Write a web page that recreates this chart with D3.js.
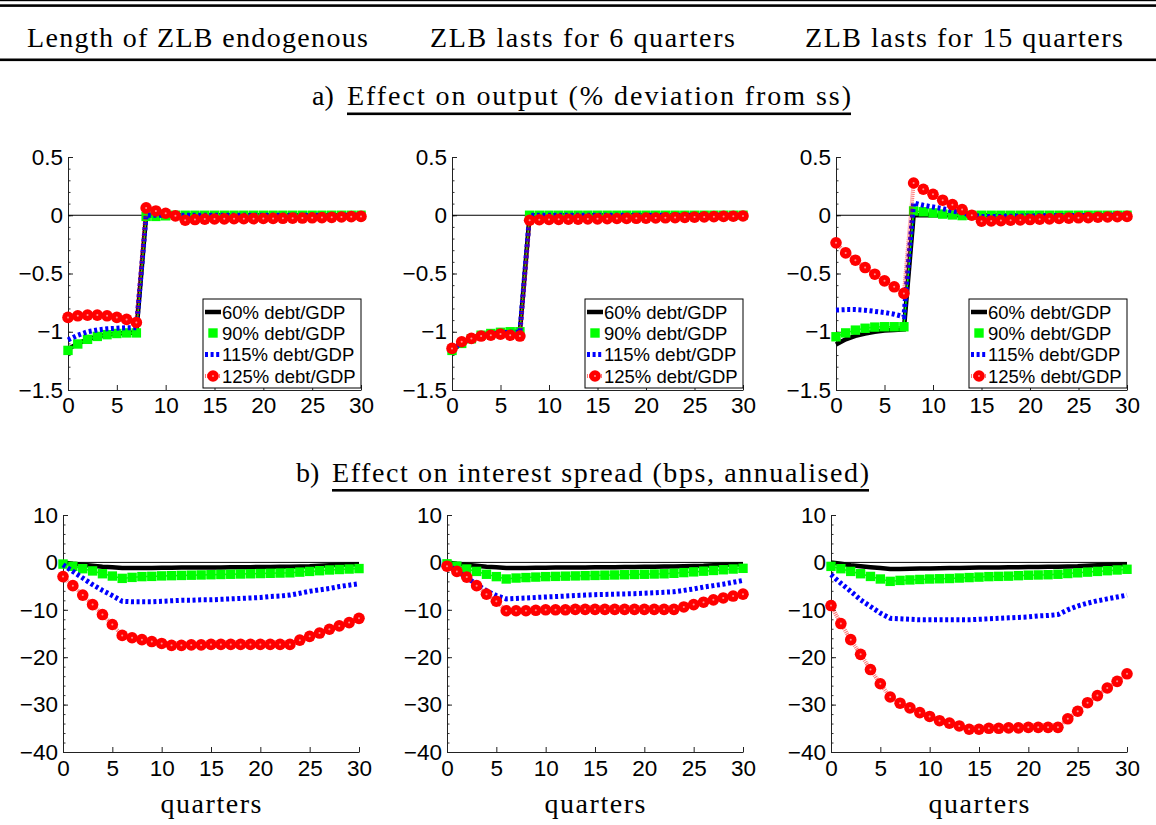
<!DOCTYPE html>
<html><head><meta charset="utf-8">
<script src="https://cdn.jsdelivr.net/npm/d3@7"></script>
<style>body{margin:0;background:#fff}</style>
</head><body><svg id="c" width="1156" height="825"></svg>
<script>
// ---------- data ----------
const quarters = [0,1,2,3,4,5,6,7,8,9,10,11,12,13,14,15,16,17,18,19,20,21,22,23,24,25,26,27,28,29,30];
const seriesNames = ["60% debt/GDP","90% debt/GDP","115% debt/GDP","125% debt/GDP"];
const columnHeaders = ["Length of ZLB endogenous","ZLB lasts for 6 quarters","ZLB lasts for 15 quarters"];
const titleA = ["a)","Effect on output (% deviation from ss)"];
const titleB = ["b)","Effect on interest spread (bps, annualised)"];
const xLabel = "quarters";
const outputTicks = [0.5,0,-0.5,-1,-1.5];
const spreadTicks = [10,0,-10,-20,-30,-40];
const quarterTicks = [0,5,10,15,20,25,30];

// a) output, ZLB endogenous
const outEndo60  = [-1.15,-1.10,-1.065,-1.04,-1.025,-1.015,-1.01,-1.005,0,0,0,0,0,0,0,0,0,0,0,0,0,0,0,0,0,0,0,0,0,0,0];
const outEndo90  = [-1.16,-1.105,-1.065,-1.04,-1.025,-1.015,-1.01,-1.01,-0.01,-0.01,-0.005,0,0,0,0,0,0,0,0,0,0,0,0,0,0,0,0,0,0,0,0];
const outEndo115 = [-1.07,-1.03,-1.0,-0.985,-0.975,-0.97,-0.965,-0.965,0,0,0,0,0,0,0,0,0,0,0,0,0,0,0,0,0,0,0,0,0,0,0];
const outEndo125 = [-0.877,-0.863,-0.857,-0.857,-0.863,-0.877,-0.894,-0.92,0.063,0.037,0.017,-0.005,-0.043,-0.037,-0.033,-0.032,-0.031,-0.03,-0.03,-0.029,-0.028,-0.027,-0.026,-0.025,-0.024,-0.022,-0.02,-0.018,-0.015,-0.012,-0.01];
// a) output, ZLB 6 quarters
const out6q60  = [-1.16,-1.10,-1.06,-1.03,-1.015,-1.005,-1.0,-1.0,0,0,0,0,0,0,0,0,0,0,0,0,0,0,0,0,0,0,0,0,0,0,0];
const out6q90  = [-1.16,-1.10,-1.06,-1.03,-1.015,-1.005,-1.0,-1.0,0,0,0,0,0,0,0,0,0,0,0,0,0,0,0,0,0,0,0,0,0,0,0];
const out6q115 = [-1.15,-1.095,-1.06,-1.035,-1.02,-1.01,-1.005,-1.005,0,0,0,0,0,0,0,0,0,0,0,0,0,0,0,0,0,0,0,0,0,0,0];
const out6q125 = [-1.143,-1.086,-1.057,-1.037,-1.03,-1.02,-1.03,-1.037,-0.043,-0.038,-0.036,-0.035,-0.034,-0.033,-0.032,-0.031,-0.03,-0.028,-0.027,-0.026,-0.025,-0.023,-0.022,-0.02,-0.018,-0.016,-0.014,-0.012,-0.01,-0.008,-0.006];
// a) output, ZLB 15 quarters
const out15q60  = [-1.11,-1.065,-1.035,-1.015,-1.0,-0.99,-0.985,-0.98,0,0,0,0,0,0,0,0,0,0,0,0,0,0,0,0,0,0,0,0,0,0,0];
const out15q90  = [-1.043,-1.01,-0.986,-0.97,-0.96,-0.957,-0.957,-0.957,0.037,0.03,0.02,0.01,0.003,-0.003,0,0,0,0,0,0,0,0,0,0,0,0,0,0,0,0,0];
const out15q115 = [-0.814,-0.81,-0.81,-0.815,-0.825,-0.835,-0.85,-0.871,0.106,0.086,0.071,0.057,0.037,0.02,0.0,-0.01,-0.01,-0.01,-0.008,-0.007,-0.006,-0.005,-0.004,-0.003,-0.003,-0.002,-0.002,-0.001,-0.001,0,0];
const out15q125 = [-0.237,-0.323,-0.386,-0.449,-0.506,-0.563,-0.614,-0.671,0.277,0.223,0.18,0.129,0.091,0.049,0.0,-0.051,-0.049,-0.046,-0.043,-0.04,-0.037,-0.034,-0.031,-0.028,-0.025,-0.022,-0.02,-0.017,-0.015,-0.012,-0.01];
// b) spread, ZLB endogenous
const sprEndo60  = [0,-0.3,-0.5,-0.7,-0.9,-1.0,-1.2,-1.2,-1.2,-1.2,-1.15,-1.15,-1.1,-1.1,-1.1,-1.05,-1.05,-1.0,-1.0,-1.0,-0.95,-0.95,-0.9,-0.9,-0.85,-0.8,-0.7,-0.6,-0.5,-0.45,-0.4];
const sprEndo90  = [-0.35,-0.83,-1.33,-1.8,-2.39,-2.88,-3.37,-3.16,-3.0,-2.95,-2.85,-2.8,-2.75,-2.7,-2.65,-2.6,-2.55,-2.5,-2.45,-2.4,-2.35,-2.3,-2.25,-2.2,-2.05,-1.9,-1.75,-1.6,-1.5,-1.4,-1.3];
const sprEndo115 = [-0.5,-1.9,-3.3,-4.7,-5.9,-7.0,-8.2,-8.3,-8.3,-8.3,-8.2,-8.1,-8.0,-8.0,-7.9,-7.9,-7.8,-7.7,-7.6,-7.5,-7.4,-7.2,-7.1,-6.9,-6.5,-6.1,-5.8,-5.5,-5.1,-4.8,-4.5];
const sprEndo125 = [-3.0,-4.9,-6.9,-8.9,-11.0,-13.1,-15.4,-15.9,-16.3,-16.7,-17.1,-17.5,-17.5,-17.4,-17.4,-17.3,-17.3,-17.3,-17.3,-17.3,-17.3,-17.3,-17.3,-17.3,-16.4,-15.6,-14.9,-14.1,-13.4,-12.7,-11.8];
// b) spread, ZLB 6 quarters
const spr6q60  = [0,-0.3,-0.5,-0.7,-0.9,-1.0,-1.2,-1.2,-1.2,-1.15,-1.15,-1.1,-1.1,-1.05,-1.05,-1.0,-1.0,-1.0,-0.95,-0.95,-0.9,-0.9,-0.85,-0.85,-0.8,-0.75,-0.7,-0.6,-0.5,-0.45,-0.4];
const spr6q90  = [-0.3,-0.8,-1.4,-1.9,-2.5,-3.0,-3.5,-3.3,-3.2,-3.1,-3.0,-2.95,-2.9,-2.85,-2.8,-2.75,-2.7,-2.65,-2.6,-2.55,-2.5,-2.45,-2.4,-2.3,-2.15,-2.0,-1.85,-1.7,-1.55,-1.4,-1.25];
const spr6q115 = [-0.5,-1.8,-3.2,-4.6,-6.0,-7.0,-7.7,-7.6,-7.5,-7.4,-7.3,-7.2,-7.1,-7.0,-6.9,-6.8,-6.75,-6.7,-6.65,-6.6,-6.5,-6.4,-6.3,-6.2,-5.9,-5.6,-5.2,-4.9,-4.6,-4.2,-3.8];
const spr6q125 = [-0.8,-1.9,-3.1,-4.9,-6.7,-8.2,-10.2,-10.2,-10.2,-10.1,-10.0,-10.0,-10.0,-9.9,-9.9,-9.9,-9.9,-9.9,-9.9,-9.9,-9.9,-9.9,-9.9,-9.9,-9.4,-8.9,-8.4,-7.9,-7.5,-7.1,-6.7];
// b) spread, ZLB 15 quarters
const spr15q60  = [0,-0.3,-0.6,-0.8,-1.0,-1.2,-1.4,-1.4,-1.35,-1.3,-1.3,-1.25,-1.2,-1.2,-1.15,-1.1,-1.1,-1.05,-1.0,-1.0,-0.95,-0.95,-0.9,-0.9,-0.85,-0.8,-0.7,-0.6,-0.5,-0.45,-0.4];
const spr15q90  = [-0.84,-1.33,-1.9,-2.39,-2.96,-3.5,-4.0,-3.8,-3.7,-3.6,-3.5,-3.45,-3.4,-3.3,-3.2,-3.1,-3.0,-2.95,-2.9,-2.8,-2.7,-2.65,-2.6,-2.5,-2.35,-2.2,-2.05,-1.9,-1.75,-1.6,-1.45];
const spr15q115 = [-2.6,-4.4,-6.1,-7.9,-9.3,-10.7,-11.8,-11.9,-12.0,-12.1,-12.1,-12.1,-12.1,-12.1,-12.1,-12.0,-11.9,-11.8,-11.7,-11.6,-11.5,-11.3,-11.2,-11.0,-10.0,-9.2,-8.6,-8.1,-7.7,-7.3,-6.9];
const spr15q125 = [-9.1,-12.9,-16.3,-19.4,-22.6,-25.6,-28.4,-29.7,-30.7,-31.7,-32.5,-33.4,-33.9,-34.5,-35.2,-35.2,-35.0,-35.0,-34.9,-34.9,-34.8,-34.8,-34.8,-34.8,-33.0,-31.4,-29.6,-28.1,-26.5,-25.1,-23.5];

// ---------- layout ----------
const svg = d3.select("#c");
const serif = "Liberation Serif, Times New Roman, serif";
const sans = "Liberation Sans, Arial, Helvetica, sans-serif";

// header rules
svg.append("rect").attr("x",0).attr("y",0).attr("width",1156).attr("height",1.2).attr("fill","#000");
svg.append("rect").attr("x",0).attr("y",4.3).attr("width",1156).attr("height",2.6).attr("fill","#000");
svg.append("rect").attr("x",0).attr("y",58.5).attr("width",1156).attr("height",2.6).attr("fill","#000");

const headerPos = [{cx:197.5,w:341},{cx:582.5,w:305},{cx:964,w:318}];
columnHeaders.forEach((t,i)=>{
  svg.append("text").attr("x",headerPos[i].cx-headerPos[i].w/2).attr("y",47)
    .attr("font-family",serif).attr("font-size",28)
    .attr("textLength",headerPos[i].w).attr("lengthAdjust","spacing")
    .text(t);
});

function sectionTitle(parts, xLetter, x0, x1, baseline, uy){
  svg.append("text").attr("x",xLetter).attr("y",baseline).attr("font-family",serif).attr("font-size",28).text(parts[0]);
  svg.append("text").attr("x",x0).attr("y",baseline).attr("font-family",serif).attr("font-size",28)
    .attr("textLength",x1-x0).attr("lengthAdjust","spacing").text(parts[1]);
  svg.append("rect").attr("x",x0).attr("y",uy).attr("width",x1-x0).attr("height",2.6).attr("fill","#000");
}
sectionTitle(titleA, 312, 347, 851, 105, 112.5);
sectionTitle(titleB, 296, 332, 869, 482, 489);

const fmt = d => d < 0 ? "\u2212" + Math.abs(d) : String(d);

function drawSeries(g, x, y, vals, si){
  const line = d3.line().x((d,i)=>x(quarters[i])).y(d=>y(d));
  if(si===0){
    g.append("path").attr("d",line(vals)).attr("fill","none").attr("stroke","#000").attr("stroke-width",4.5);
  } else if(si===1){
    g.append("path").attr("d",line(vals)).attr("fill","none").attr("stroke","#00ff00").attr("stroke-width",1.5);
    g.selectAll(null).data(vals).enter().append("rect")
      .attr("x",(d,i)=>x(quarters[i])-4.7).attr("y",d=>y(d)-4.7).attr("width",9.4).attr("height",9.4).attr("fill","#00ff00");
  } else if(si===2){
    g.append("path").attr("d",line(vals)).attr("fill","none").attr("stroke","#0000ff").attr("stroke-width",5).attr("stroke-dasharray","3,2.6");
  } else {
    g.append("path").attr("d",line(vals)).attr("fill","none").attr("stroke","#ff0000").attr("stroke-opacity",0.55).attr("stroke-width",4).attr("stroke-dasharray","1,1");
    g.selectAll(null).data(vals).enter().append("circle")
      .attr("cx",(d,i)=>x(quarters[i])).attr("cy",d=>y(d)).attr("r",5.8).attr("fill","#ff0000");
    g.selectAll(null).data(vals).enter().append("circle")
      .attr("cx",(d,i)=>x(quarters[i])).attr("cy",d=>y(d)).attr("r",1).attr("fill","#ff9090");
  }
}

function drawLegend(g, xRight){
  const lx = xRight-158, ly = 299;
  g.append("rect").attr("x",lx).attr("y",ly).attr("width",158).attr("height",89).attr("fill","#fff").attr("stroke","#000").attr("stroke-width",1);
  const rows = [312,333,354.5,376];
  seriesNames.forEach((n,i)=>{
    const ry = rows[i];
    if(i===0){
      g.append("line").attr("x1",lx+2).attr("x2",lx+18).attr("y1",ry).attr("y2",ry).attr("stroke","#000").attr("stroke-width",4.5);
    } else if(i===1){
      g.append("rect").attr("x",lx+10-4.7).attr("y",ry-4.7).attr("width",9.4).attr("height",9.4).attr("fill","#00ff00");
    } else if(i===2){
      g.append("line").attr("x1",lx+2).attr("x2",lx+18).attr("y1",ry).attr("y2",ry).attr("stroke","#0000ff").attr("stroke-width",5).attr("stroke-dasharray","3,2.6");
    } else {
      g.append("line").attr("x1",lx+2).attr("x2",lx+18).attr("y1",ry).attr("y2",ry).attr("stroke","#ff0000").attr("stroke-opacity",0.55).attr("stroke-width",4).attr("stroke-dasharray","1,1");
      g.append("circle").attr("cx",lx+10).attr("cy",ry).attr("r",5.8).attr("fill","#ff0000");
      g.append("circle").attr("cx",lx+10).attr("cy",ry).attr("r",1).attr("fill","#ff9090");
    }
    g.append("text").attr("x",lx+19).attr("y",ry).attr("dy","0.36em").attr("font-family",sans).attr("font-size",18.5).attr("fill","#000").text(n);
  });
}

function drawPanel(cfg){
  const g = svg.append("g");
  const x = d3.scaleLinear().domain([0,30]).range([cfg.x0,cfg.x1]);
  const y = d3.scaleLinear().domain(cfg.domain).range(cfg.yr);
  // minor y ticks
  g.append("g").attr("transform",`translate(${cfg.x0},0)`)
    .call(d3.axisLeft(y).tickValues(cfg.minor).tickSize(-2.5).tickSizeOuter(0).tickFormat(""))
    .call(a=>a.select(".domain").remove())
    .attr("color","#333");
  const ya = g.append("g").attr("transform",`translate(${cfg.x0},0)`)
    .call(d3.axisLeft(y).tickValues(cfg.ticks).tickSize(-5).tickSizeOuter(0).tickPadding(5).tickFormat(fmt));
  ya.attr("color","#222").attr("font-family",sans).attr("font-size",22.5);
  ya.selectAll("text").attr("fill","#000");
  const xa = g.append("g").attr("transform",`translate(0,${cfg.yr[0]})`)
    .call(d3.axisBottom(x).tickValues(quarterTicks).tickSize(-5).tickSizeOuter(0).tickPadding(cfg.xpad));
  xa.attr("color","#222").attr("font-family",sans).attr("font-size",22.5);
  xa.selectAll("text").attr("fill","#000");
  // zero line
  g.append("line").attr("x1",x(0)).attr("x2",x(30)).attr("y1",y(0)).attr("y2",y(0)).attr("stroke","#000").attr("stroke-width",1);
  const sg = g.append("g");
  cfg.series.forEach((vals,si)=>drawSeries(sg,x,y,vals,si));
  if(cfg.legend) drawLegend(g, cfg.x1);
  if(cfg.xlabel){
    g.append("text").attr("x",(cfg.x0+cfg.x1)/2).attr("y",813).attr("text-anchor","middle")
      .attr("font-family",serif).attr("font-size",28).attr("textLength",101).attr("lengthAdjust","spacing").text(xLabel);
  }
}

const outMinor = [0.5,0.4,0.3,0.2,0.1,0,-0.1,-0.2,-0.3,-0.4,-0.5,-0.6,-0.7,-0.8,-0.9,-1,-1.1,-1.2,-1.3,-1.4,-1.5];
const sprMinor = [10,8,6,4,2,0,-2,-4,-6,-8,-10,-12,-14,-16,-18,-20,-22,-24,-26,-28,-30,-32,-34,-36,-38,-40];

const topX = [[68,361],[452,743],[836,1127]];
const botX = [[63,359],[447,743],[831,1127]];
const topSeries = [[outEndo60,outEndo90,outEndo115,outEndo125],[out6q60,out6q90,out6q115,out6q125],[out15q60,out15q90,out15q115,out15q125]];
const botSeries = [[sprEndo60,sprEndo90,sprEndo115,sprEndo125],[spr6q60,spr6q90,spr6q115,spr6q125],[spr15q60,spr15q90,spr15q115,spr15q125]];

topX.forEach((r,i)=>drawPanel({x0:r[0],x1:r[1],domain:[-1.5,0.5],yr:[390,157],ticks:outputTicks,minor:outMinor,series:topSeries[i],legend:true,xpad:7}));
botX.forEach((r,i)=>drawPanel({x0:r[0],x1:r[1],domain:[-40,10],yr:[752,515],ticks:spreadTicks,minor:sprMinor,series:botSeries[i],xlabel:true,xpad:8}));
</script>
</body></html>
